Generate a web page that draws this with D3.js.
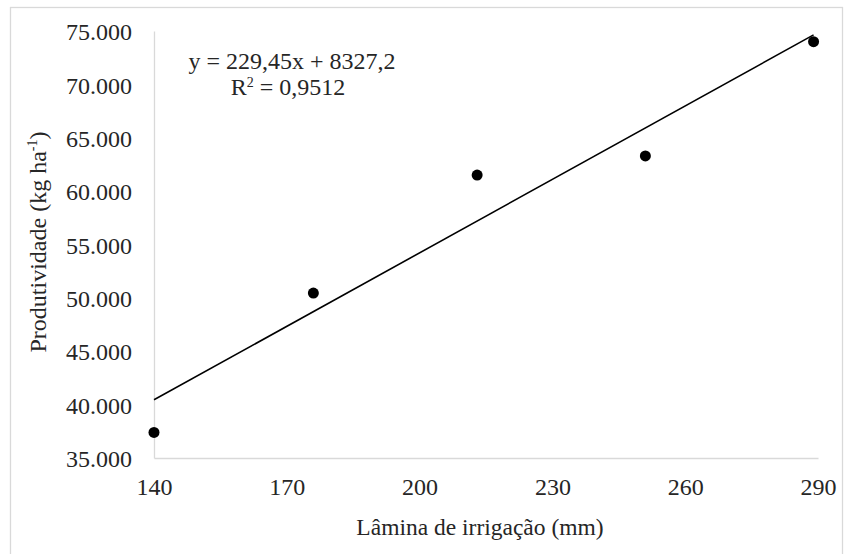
<!DOCTYPE html>
<html>
<head>
<meta charset="utf-8">
<script src="https://cdn.jsdelivr.net/npm/d3@7"></script>
<style>
  body { margin: 0; background: #fff; }
</style>
</head>
<body>
<svg width="845" height="554"></svg>
<script>
// data
var lamina = [140, 176, 213, 251, 289],
	produtividade = [37400, 50450, 61500, 63300, 74000],
	xTicks = [140, 170, 200, 230, 260, 290],
	yTicks = [35000, 40000, 45000, 50000, 55000, 60000, 65000, 70000, 75000],
	slope = 229.45,
	intercept = 8327.2,
	eqLabel = "y = 229,45x + 8327,2",
	r2Label = " = 0,9512";

var FONT = "'Liberation Serif'",
	INK = "#262626";

var svg = d3.select("svg"),
	margin = {top: 31, right: 27, bottom: 96, left: 154},
	width = 845 - margin.left - margin.right,
	height = 554 - margin.top - margin.bottom;

// outer chart border
svg.append("rect")
	.attr("x", 10.5).attr("y", 7.5)
	.attr("width", 832).attr("height", 560)
	.attr("fill", "none")
	.attr("stroke", "#d9d9d9")
	.attr("stroke-width", 1.3);

var x = d3.scaleLinear().domain([140, 290]).range([0, width]),
	y = d3.scaleLinear().domain([35000, 75000]).range([height, 0]);

var fmt = function(d){ return d3.format(",")(d).replace(/,/g, "."); };

var g = svg.append("g")
	.attr("transform", "translate(" + margin.left + "," + margin.top + ")");

var xAxis = g.append("g")
	.attr("transform", "translate(0," + height + ")")
	.call(d3.axisBottom(x).tickValues(xTicks).tickSize(0).tickPadding(23));

var yAxis = g.append("g")
	.call(d3.axisLeft(y).tickValues(yTicks).tickFormat(fmt).tickSize(0).tickPadding(22));

[xAxis, yAxis].forEach(function(a){
	a.attr("font-family", FONT).attr("font-size", 24);
	a.select(".domain").attr("stroke", "#d9d9d9").attr("stroke-width", 1.3);
	a.selectAll("text").attr("fill", INK);
});
yAxis.selectAll("text").attr("dy", "0.36em");
xAxis.selectAll("text").attr("dy", "0.6em");

// trend line from the equation
var x0 = lamina[0], x1 = lamina[lamina.length - 1];
g.append("line")
	.attr("x1", x(x0)).attr("y1", y(slope * x0 + intercept))
	.attr("x2", x(x1)).attr("y2", y(slope * x1 + intercept))
	.attr("stroke", "#000")
	.attr("stroke-width", 1.6);

g.selectAll(".dot")
	.data(lamina)
	.enter().append("circle")
	.attr("class", "dot")
	.attr("cx", function(d){ return x(d); })
	.attr("cy", function(d, i){ return y(produtividade[i]); })
	.attr("r", 5.5)
	.attr("fill", "#000");

function label(xp, yp, size) {
	return svg.append("text")
		.attr("x", xp).attr("y", yp)
		.attr("text-anchor", "middle")
		.attr("font-family", FONT)
		.attr("font-size", size)
		.attr("fill", INK);
}

// equation label
label(292, 69, 24).text(eqLabel);

var r2 = label(288, 95, 24);
r2.append("tspan").text("R");
r2.append("tspan").attr("dy", -8).attr("font-size", 14).text("2");
r2.append("tspan").attr("dy", 8).text(r2Label);

// axis titles
label(480, 535, 23.5).text("Lâmina de irrigação (mm)");

var yt = label(0, 0, 24).attr("transform", "translate(46,242) rotate(-90)");
yt.append("tspan").text("Produtividade (kg ha");
yt.append("tspan").attr("dy", -9).attr("font-size", 14).text("-1");
yt.append("tspan").attr("dy", 9).text(")");
</script>
</body>
</html>
